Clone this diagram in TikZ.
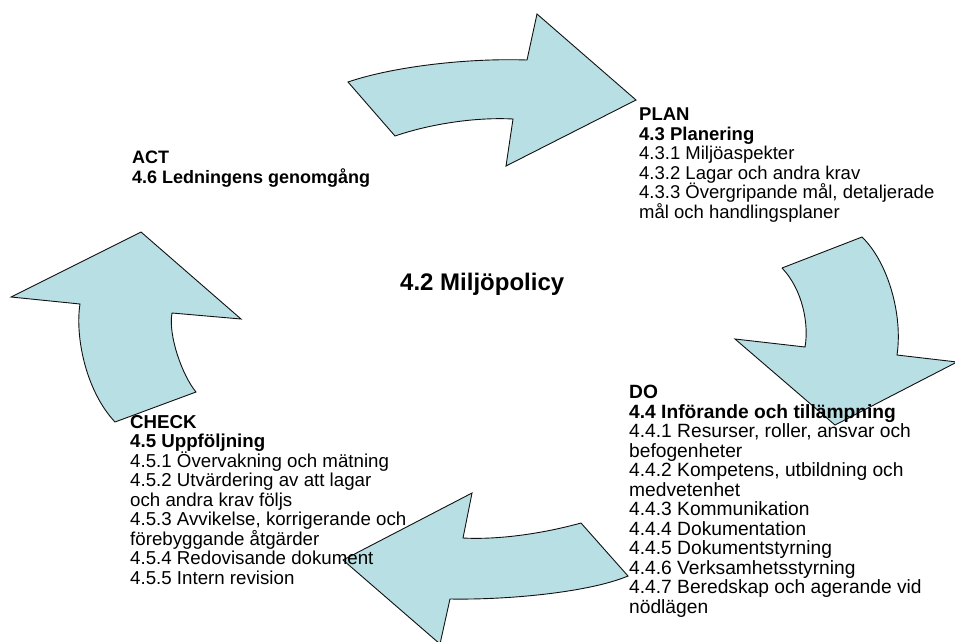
\documentclass[tikz,border=0pt]{standalone}
\usepackage{fontspec}
\setmainfont{Liberation Sans}
\usetikzlibrary{positioning}
\definecolor{pdcafill}{HTML}{B8DFE3}
\definecolor{pdcaline}{HTML}{111111}
\tikzset{
  pdca/.style={fill=pdcafill, draw=pdcaline, line width=0.9pt, line join=miter},
  phase/.style={anchor=north west, inner sep=0pt, align=left, text=black,
    font={\fontsize{#1}{19.5}\selectfont\lineskiplimit=-100pt}},
  phase/.default=19,
  policy/.style={anchor=base west, inner sep=0pt, font=\fontsize{24}{26}\selectfont\bfseries},
}

\begin{document}
\begin{tikzpicture}[x=1pt, y=-1pt]
    \useasboundingbox (0,0) rectangle (955,641);
    \clip (0,0) rectangle (955,641);
    % the four block arrows of the cycle
    \draw[pdca] (348,82) .. controls (395,66) and (470,58) .. (527,60) -- (537,14) -- (636,100)
      -- (506,166) -- (513,119) .. controls (475,117) and (430,124) .. (395,136) -- cycle;
    \draw[pdca] (782,268) -- (862,237) .. controls (888,262) and (903,315) .. (897,355) -- (957,362)
      -- (835,425) -- (735,339) -- (805,347) .. controls (809,325) and (803,290) .. (782,268);
    \draw[pdca] (115,422) .. controls (85,390) and (75,335) .. (80,304) -- (11,297) -- (141,232)
      -- (241,319) -- (172,313) .. controls (168,335) and (182,375) .. (196,392) -- cycle;
    \draw[pdca] (628,576) .. controls (590,592) and (510,600) .. (450,599) -- (440,644) -- (343,560)
      -- (472,493) -- (463,538) .. controls (500,540) and (545,533) .. (581,523) -- cycle;
    % texts
    \node[policy] (policy) at (400,290) {4.2 Miljöpolicy};
    \node[phase=18] (act) at (132,151) {\textbf{ACT}\\ \textbf{4.6 Ledningens genomgång}};
    \node[phase=18.5] (plan) at (639,108) {\textbf{PLAN}\\ \textbf{4.3 Planering}\\
      4.3.1 Miljöaspekter\\ 4.3.2 Lagar och andra krav\\
      4.3.3 Övergripande mål, detaljerade\\ mål och handlingsplaner};
    \node[phase=19.2] (do) at (629,385) {\textbf{DO}\\ \textbf{4.4 Införande och tillämpning}\\
      4.4.1 Resurser, roller, ansvar och\\ befogenheter\\
      4.4.2 Kompetens, utbildning och\\ medvetenhet\\
      4.4.3 Kommunikation\\ 4.4.4 Dokumentation\\ 4.4.5 Dokumentstyrning\\
      4.4.6 Verksamhetsstyrning\\ 4.4.7 Beredskap och agerande vid\\ nödlägen};
    \node[phase=18.7] (check) at (130,415) {\textbf{CHECK}\\ \textbf{4.5 Uppföljning}\\
      4.5.1 Övervakning och mätning\\ 4.5.2 Utvärdering av att lagar\\
      och andra krav följs\\ 4.5.3 Avvikelse, korrigerande och\\
      förebyggande åtgärder\\ 4.5.4 Redovisande dokument\\ 4.5.5 Intern revision};
  \end{tikzpicture}
\end{document}
